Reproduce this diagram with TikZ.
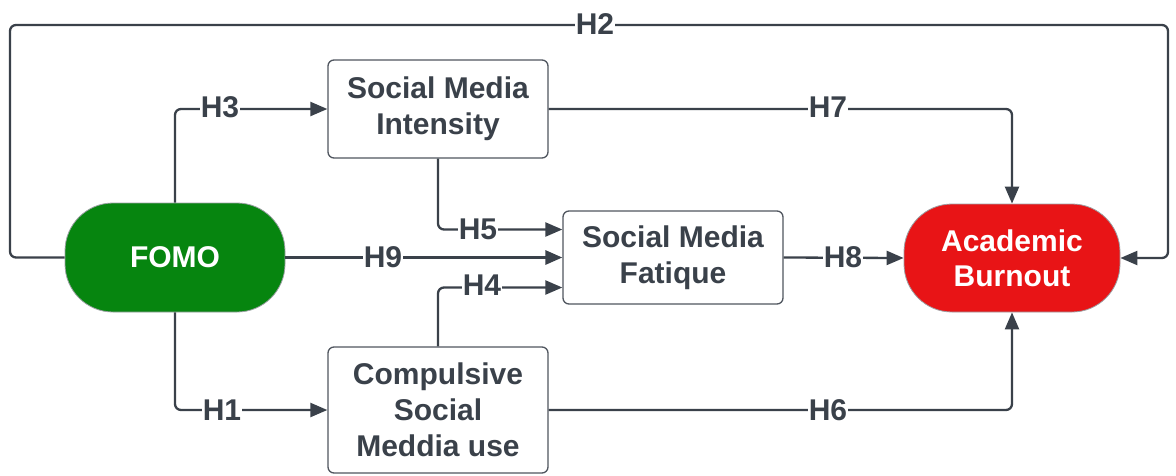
\documentclass[tikz,border=0pt]{standalone}
\usepackage{fontspec}
\setmainfont{Liberation Sans}
\usetikzlibrary{arrows.meta,calc}
\definecolor{ink}{HTML}{3A414A}
\definecolor{boxline}{HTML}{50565F}
\definecolor{fomog}{HTML}{06850F}
\definecolor{burnr}{HTML}{E81416}
\begin{document}
\begin{tikzpicture}[x=1pt,y=-1pt,
  every node/.style={font=\fontsize{30}{36}\selectfont\bfseries, text=ink},
  box/.style={draw=boxline, line width=1.3pt, rounded corners=6pt, fill=white, align=center, minimum width=220pt, inner sep=0pt},
  pill/.style={draw=ink!50, line width=0.8pt, rounded corners=48pt, align=center, text=white, minimum width=220pt, minimum height=109pt, inner sep=0pt},
  conn/.style={draw=ink, line width=2.3pt, rounded corners=6pt, -{Triangle[length=17pt,width=14pt]}},
  lbl/.style={fill=white, inner sep=1pt}
]
\useasboundingbox (0,0) rectangle (1176,475);

\node[pill, fill=fomog] (fomo) at (175,257.5) {FOMO};
\node[pill, fill=burnr, minimum width=216pt, minimum height=108pt] (burn) at (1012,258) {Academic\\[-1pt]Burnout};
\node[box, minimum height=98pt] (smi) at (438,109) {Social Media\\Intensity};
\node[box, minimum height=93pt] (fat) at (673,257.5) {Social Media\\Fatique};
\node[box, minimum height=126pt] (csm) at (438,410) {Compulsive\\Social\\Meddia use};

\coordinate (h2a) at (10,257.5);
\coordinate (h2b) at (10,25);
\coordinate (h2c) at (1168,25);
\coordinate (h2d) at (1168,258);
\draw[conn] (fomo.west) -- (h2a) -- (h2b) -- (h2c) -- (h2d) -- (burn.east);
\draw[conn] (fomo.north) |- (smi.west);
\draw[conn] (fomo.south) |- (csm.west);
\draw[conn, line width=3pt] (fomo.east) -- (fat.west);
\draw[conn] (smi.south) |- ($(fat.west)+(0,-28)$);
\draw[conn] (csm.north) |- ($(fat.west)+(0,30)$);
\draw[conn] (smi.east) -| (burn.north);
\draw[conn] (fat.east) -- (burn.west);
\draw[conn] (csm.east) -| (burn.south);

\node[lbl] (l2) at (595,24) {H2};
\node[lbl] (l3) at (220,107) {H3};
\node[lbl] (l1) at (222,410) {H1};
\node[lbl] (l9) at (383,257.5) {H9};
\node[lbl] (l5) at (478,229.5) {H5};
\node[lbl] (l4) at (482,285) {H4};
\node[lbl] (l7) at (828,107) {H7};
\node[lbl] (l8) at (843,257.5) {H8};
\node[lbl] (l6) at (828,410) {H6};
\end{tikzpicture}
\end{document}
